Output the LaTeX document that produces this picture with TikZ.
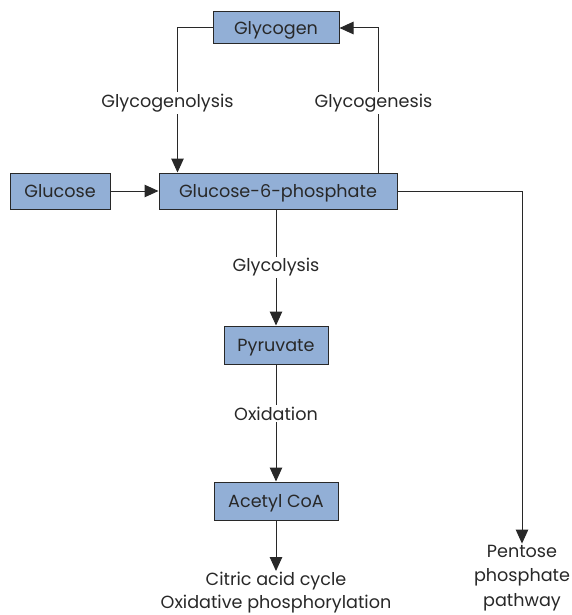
\documentclass[tikz,border=0pt]{standalone}
\usepackage{fontspec}
\setmainfont{Poppins}
\usepackage{xcolor}
\usetikzlibrary{arrows.meta}
\definecolor{boxblue}{RGB}{146,175,214}
\definecolor{boxline}{RGB}{40,40,40}

\begin{document}
\begin{tikzpicture}[x=1pt, y=-1pt, line width=1pt,
		metab/.style={draw=boxline, fill=boxblue, minimum height=34pt, inner sep=0pt,
			text height=14pt, text depth=1.5pt,
			font=\fontsize{17.6}{22}\selectfont, text=boxline},
		procname/.style={fill=white, inner sep=2pt, font=\fontsize{17.6}{22}\selectfont, text=boxline},
		flow/.style={draw=boxline, -{Triangle[length=14pt, width=12.5pt]}}]
	\useasboundingbox (0,0) rectangle (571,615);
	\node[metab, minimum width=126pt, minimum height=32pt] (glycogen) at (276,28) {Glycogen};
	\node[metab, minimum width=100pt, minimum height=36pt] (glucose) at (60,191) {Glucose};
	\node[metab, minimum width=238pt, minimum height=36pt] (g6p) at (278,191) {Glucose-6-phosphate};
	\node[metab, minimum width=104pt, minimum height=38pt] (pyruvate) at (276,345) {Pyruvate};
	\node[metab, minimum width=124pt, minimum height=38pt] (acetyl) at (276,501) {Acetyl CoA};
	\node[procname, align=center, inner sep=1pt, font=\fontsize{17.6}{23}\selectfont] (tca) at (276,593)
		{Citric acid cycle\\Oxidative phosphorylation};
	\node[procname, align=center, inner sep=1pt, font=\fontsize{17.6}{24.5}\selectfont] (ppp) at (522,578)
		{Pentose\\phosphate\\pathway};
	\coordinate (lysis) at ([xshift=19pt]g6p.north west);
	\coordinate (genesis) at ([xshift=-19pt]g6p.north east);

	\draw[flow] (glucose) -- (g6p);
	\draw[flow] (glycogen.west) -| (lysis)
		node[procname, pos=0.76, xshift=-10pt] {Glycogenolysis};
	\draw[flow] (genesis) |- (glycogen.east)
		node[procname, pos=0.24, xshift=-5pt] {Glycogenesis};
	\draw[flow] (g6p.south -| pyruvate) -- (pyruvate)
		node[procname, midway] {Glycolysis};
	\draw[flow] (pyruvate) -- (acetyl)
		node[procname, pos=0.42] {Oxidation};
	\draw[flow] (acetyl) -- (tca);
	\draw[flow] (g6p.east) -| (ppp);
\end{tikzpicture}
\end{document}
